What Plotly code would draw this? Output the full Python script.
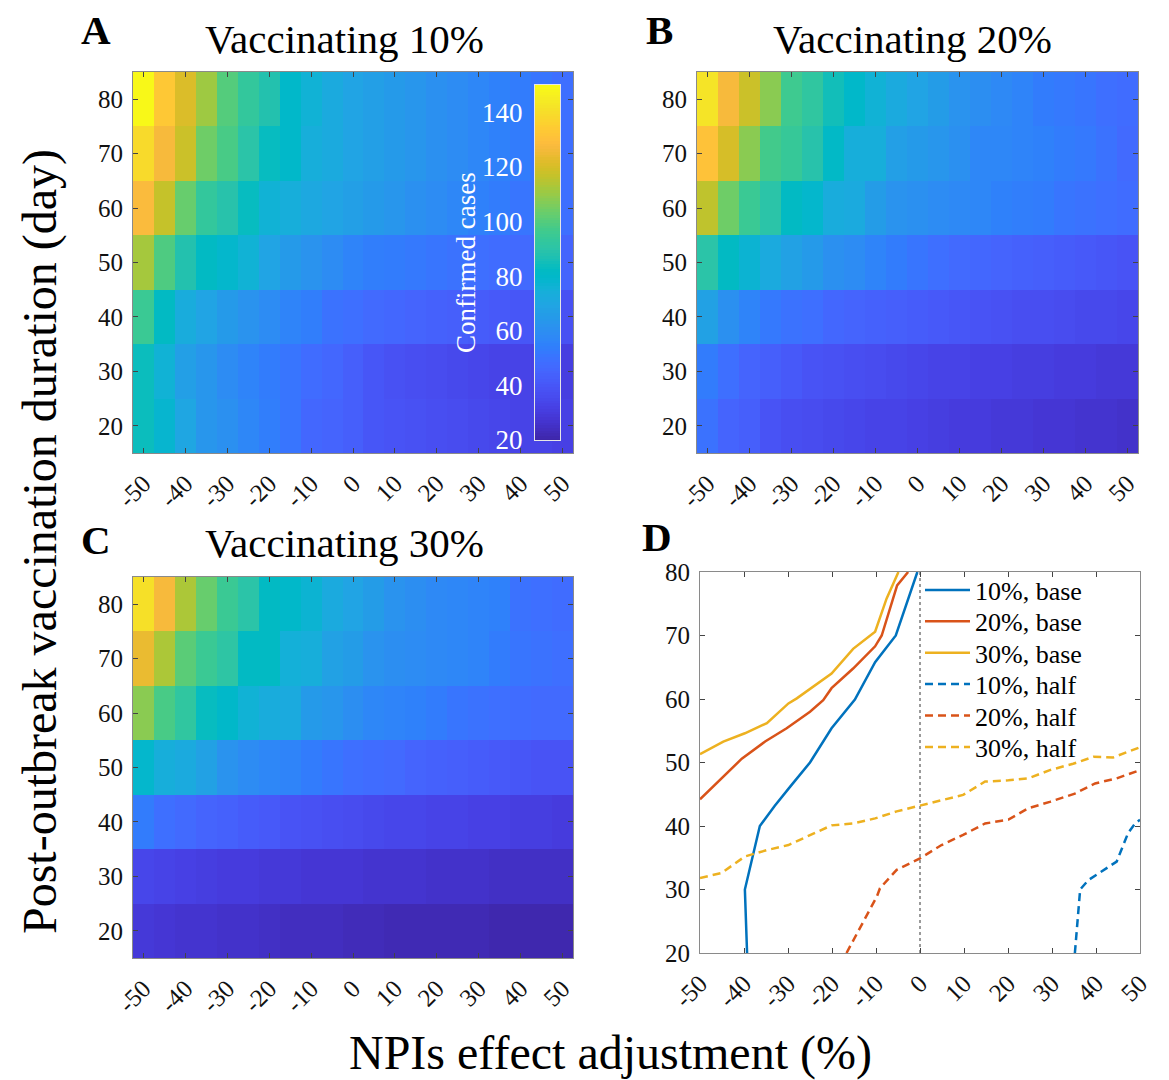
import plotly.graph_objects as go

# ---------------- data ----------------
npi_adjust = [-50, -45, -40, -35, -30, -25, -20, -15, -10, -5, 0, 5, 10, 15, 20, 25, 30, 35, 40, 45, 50]
duration_days = [20, 30, 40, 50, 60, 70, 80]
x_tick_vals = [-50, -40, -30, -20, -10, 0, 10, 20, 30, 40, 50]
x_tick_text = ["-50", "-40", "-30", "-20", "-10", "0", "10", "20", "30", "40", "50"]
y_tick_vals = [20, 30, 40, 50, 60, 70, 80]
cbar_ticks = [20, 40, 60, 80, 100, 120, 140]
cbar_levels = list(range(20, 151))  # colour-bar gradient levels (20..150)

# Vaccinating 10% (rows: duration 20 -> 80)
cases_10 = [
    [84, 78, 70, 63, 61, 57, 54, 51, 46, 45, 43, 40, 39, 38, 37, 36, 35, 34, 33, 33, 32],
    [84, 76, 67, 63, 59, 56, 53, 51, 48, 46, 43, 40, 38, 37, 36, 35, 34, 33, 33, 32, 31],
    [95, 82, 73, 69, 65, 62, 59, 56, 54, 50, 49, 47, 46, 45, 44, 43, 42, 41, 40, 39, 38],
    [112, 99, 88, 82, 79, 76, 69, 65, 62, 59, 56, 54, 53, 52, 51, 50, 49, 48, 47, 46, 45],
    [128, 117, 103, 93, 89, 83, 76, 74, 71, 69, 67, 65, 63, 61, 59, 57, 55, 53, 51, 50, 49],
    [139, 127, 118, 104, 98, 90, 83, 80, 74, 72, 69, 67, 65, 63, 61, 59, 57, 55, 53, 51, 49],
    [149, 133, 121, 111, 100, 93, 88, 80, 76, 72, 69, 67, 65, 63, 61, 59, 57, 55, 53, 51, 49],
]
# Vaccinating 20%
cases_20 = [
    [50, 45, 43, 39, 37, 36, 35, 34, 33, 33, 32, 31, 30, 30, 29, 29, 28, 28, 27, 27, 26],
    [53, 49, 45, 43, 41, 39, 38, 37, 36, 35, 34, 33, 33, 32, 32, 31, 31, 30, 30, 29, 29],
    [68, 61, 56, 52, 50, 49, 46, 45, 44, 43, 42, 41, 40, 39, 38, 37, 37, 36, 35, 35, 34],
    [90, 82, 77, 72, 68, 65, 61, 59, 56, 53, 51, 49, 47, 46, 45, 44, 43, 42, 41, 40, 39],
    [116, 104, 95, 90, 82, 79, 73, 72, 66, 62, 61, 59, 58, 57, 55, 54, 53, 51, 50, 49, 48],
    [131, 120, 108, 97, 94, 89, 81, 74, 74, 67, 65, 63, 61, 57, 57, 56, 55, 53, 52, 50, 47],
    [142, 127, 118, 108, 96, 92, 85, 80, 76, 72, 69, 66, 62, 60, 58, 56, 53, 52, 51, 49, 48],
]
# Vaccinating 30%
cases_30 = [
    [29, 28, 27, 27, 26, 26, 25, 24, 24, 24, 23, 23, 22, 22, 22, 22, 22, 21, 21, 21, 21],
    [34, 33, 32, 31, 30, 30, 29, 29, 28, 28, 28, 27, 27, 27, 26, 26, 26, 25, 25, 25, 25],
    [53, 49, 47, 45, 44, 42, 41, 39, 38, 37, 36, 35, 34, 34, 33, 33, 32, 32, 31, 31, 30],
    [79, 74, 72, 68, 62, 59, 57, 56, 53, 51, 49, 48, 47, 45, 44, 43, 42, 41, 40, 39, 39],
    [108, 98, 92, 83, 80, 76, 73, 72, 65, 63, 60, 57, 56, 55, 53, 51, 50, 49, 48, 47, 47],
    [124, 113, 101, 95, 91, 82, 82, 75, 74, 68, 66, 62, 60, 59, 58, 57, 56, 53, 51, 50, 49],
    [141, 127, 113, 103, 95, 90, 82, 80, 77, 72, 69, 66, 62, 60, 58, 57, 56, 55, 50, 49, 48],
]

# Panel D threshold curves
base10_x = [-39.3, -39.8, -36.4, -33.0, -29.5, -25.0, -20.1, -14.8, -10.2, -5.5, -0.6]
base10_y = [20, 30, 40, 43.2, 46.2, 50, 55.4, 59.9, 65.8, 70, 80]
base20_x = [-50, -45.1, -40.5, -35.2, -30.3, -25, -22, -20.1, -15.2, -10.2, -8.7, -5.2, -2.7]
base20_y = [44.2, 47.5, 50.6, 53.3, 55.4, 58, 59.8, 61.7, 64.8, 68.3, 70, 77.9, 80]
base30_x = [-50, -44.7, -39.8, -34.8, -29.9, -28, -20.1, -15.2, -10.2, -7.6, -4.9]
base30_y = [51.3, 53.3, 54.6, 56.2, 59.3, 60.1, 64, 67.9, 70.6, 75.8, 80]
half10_x = [35.2, 36.4, 38.3, 44.7, 47.3, 48.9, 50]
half10_y = [20, 30, 31.5, 34.4, 38.9, 40.4, 41]
half20_x = [-16.7, -9.8, -9.1, -5.3, 0, 4.9, 9.8, 14.8, 20.1, 24.6, 29.5, 35.2, 39.8, 44.7, 50]
half20_y = [20, 28.9, 30.2, 33.1, 34.9, 37, 38.6, 40.4, 41, 42.8, 43.8, 45.1, 46.7, 47.5, 48.8]
half30_x = [-50, -45.1, -39.8, -34.8, -29.9, -25, -20.1, -15.2, -10.2, -5.3, 0, 4.9, 9.8, 14.8,
            20.1, 24.6, 29.5, 34.8, 39.4, 43.9, 50]
half30_y = [31.8, 32.6, 35.2, 36.2, 37, 38.6, 40.1, 40.4, 41.2, 42.3, 43.2, 44, 44.9, 47,
            47.2, 47.5, 48.8, 49.8, 50.9, 50.8, 52.4]

# ---------------- style ----------------
PARULA = [
    (0.2422, 0.1504, 0.6603), (0.2504, 0.1650, 0.7076), (0.2578, 0.1818, 0.7511), (0.2647, 0.1978, 0.7952),
    (0.2706, 0.2147, 0.8364), (0.2751, 0.2342, 0.8710), (0.2783, 0.2559, 0.8991), (0.2803, 0.2782, 0.9221),
    (0.2813, 0.3006, 0.9414), (0.2810, 0.3228, 0.9579), (0.2795, 0.3447, 0.9717), (0.2760, 0.3667, 0.9829),
    (0.2699, 0.3892, 0.9906), (0.2602, 0.4123, 0.9952), (0.2440, 0.4358, 0.9988), (0.2206, 0.4603, 0.9973),
    (0.1963, 0.4847, 0.9892), (0.1834, 0.5074, 0.9798), (0.1786, 0.5289, 0.9682), (0.1764, 0.5499, 0.9520),
    (0.1687, 0.5703, 0.9359), (0.1540, 0.5902, 0.9218), (0.1460, 0.6091, 0.9079), (0.1380, 0.6276, 0.8973),
    (0.1248, 0.6459, 0.8883), (0.1113, 0.6630, 0.8763), (0.0952, 0.6798, 0.8598), (0.0689, 0.6948, 0.8394),
    (0.0297, 0.7082, 0.8163), (0.0036, 0.7203, 0.7917), (0.0067, 0.7312, 0.7660), (0.0433, 0.7411, 0.7394),
    (0.0964, 0.7500, 0.7120), (0.1408, 0.7584, 0.6842), (0.1717, 0.7670, 0.6554), (0.1938, 0.7758, 0.6251),
    (0.2161, 0.7843, 0.5923), (0.2470, 0.7918, 0.5567), (0.2906, 0.7973, 0.5188), (0.3406, 0.8008, 0.4789),
    (0.3909, 0.8029, 0.4354), (0.4456, 0.8024, 0.3909), (0.5044, 0.7993, 0.3480), (0.5616, 0.7942, 0.3045),
    (0.6174, 0.7876, 0.2612), (0.6720, 0.7793, 0.2227), (0.7242, 0.7698, 0.1910), (0.7738, 0.7598, 0.1646),
    (0.8203, 0.7498, 0.1535), (0.8634, 0.7406, 0.1596), (0.9035, 0.7330, 0.1774), (0.9393, 0.7288, 0.2100),
    (0.9728, 0.7298, 0.2394), (0.9956, 0.7434, 0.2371), (0.9970, 0.7659, 0.2199), (0.9952, 0.7893, 0.2028),
    (0.9892, 0.8136, 0.1885), (0.9786, 0.8386, 0.1766), (0.9676, 0.8639, 0.1643), (0.9610, 0.8890, 0.1537),
    (0.9597, 0.9135, 0.1423), (0.9628, 0.9373, 0.1265), (0.9691, 0.9606, 0.1064), (0.9769, 0.9839, 0.0805),
]
n = len(PARULA)
parula_scale = [[i / (n - 1), "rgb(%d,%d,%d)" % tuple(round(c * 255) for c in rgb)] for i, rgb in enumerate(PARULA)]

W, H = 1169, 1080
FONT = "Liberation Serif, Times New Roman, serif"
TICK_FONT = dict(family=FONT, size=25, color="#111111")
AXIS_LINE = "#8a8a8a"


def dom_x(a, b):
    return [a / W, b / W]


def dom_y(top, bottom):
    return [1 - bottom / H, 1 - top / H]


fig = go.Figure()

panels = [(cases_10, "x", "y"), (cases_20, "x2", "y2"), (cases_30, "x3", "y3")]
for z, xa, ya in panels:
    fig.add_trace(go.Heatmap(
        x=npi_adjust, y=duration_days, z=z, coloraxis="coloraxis",
        xaxis=xa, yaxis=ya, showlegend=False,
    ))

line_specs = [
    ("10%, base", base10_x, base10_y, "#0072BD", "solid"),
    ("20%, base", base20_x, base20_y, "#D95319", "solid"),
    ("30%, base", base30_x, base30_y, "#EDB120", "solid"),
    ("10%, half", half10_x, half10_y, "#0072BD", "8px,5px"),
    ("20%, half", half20_x, half20_y, "#D95319", "8px,5px"),
    ("30%, half", half30_x, half30_y, "#EDB120", "8px,5px"),
]
legend_names = ["legend", "legend2", "legend3", "legend4", "legend5", "legend6"]
for (name, xs, ys, col, dash), lg in zip(line_specs, legend_names):
    fig.add_trace(go.Scatter(
        x=xs, y=ys, mode="lines", name=name, xaxis="x4", yaxis="y4",
        line=dict(color=col, width=2.5, dash=dash), legend=lg,
    ))

# colour bar drawn as a thin heatmap so labels can sit on its left side
fig.add_trace(go.Heatmap(
    x=[0], y=cbar_levels, z=[[v] for v in cbar_levels], coloraxis="coloraxis",
    xaxis="x5", yaxis="y5", hoverinfo="skip", showlegend=False,
))

common_x = dict(
    tickmode="array", tickvals=x_tick_vals, ticktext=x_tick_text, tickangle=-45, tickfont=TICK_FONT,
    ticks="inside", ticklen=5, tickcolor="#444444", showline=True, linecolor=AXIS_LINE,
    linewidth=1, mirror="ticks", showgrid=False, zeroline=False, automargin=False,
    ticklabelstandoff=5,
)
common_y = dict(
    tickmode="array", tickvals=y_tick_vals, tickfont=TICK_FONT,
    ticks="inside", ticklen=5, tickcolor="#444444", showline=True, linecolor=AXIS_LINE,
    linewidth=1, mirror="ticks", showgrid=False, zeroline=False, automargin=False,
    ticklabelstandoff=4,
)

legend_layouts = {}
for i, lg in enumerate(legend_names):
    legend_layouts[lg] = dict(
        x=920 / W, y=1 - (590 + 31.4 * i) / H, xanchor="left", yanchor="middle",
        bgcolor="rgba(0,0,0,0)", borderwidth=0,
        font=dict(family=FONT, size=26, color="black"),
        itemwidth=45, tracegroupgap=0,
    )

fig.update_layout(
    width=W, height=H,
    margin=dict(l=0, r=0, t=0, b=0, autoexpand=False),
    paper_bgcolor="white", plot_bgcolor="white",
    font=dict(family=FONT, color="black"),
    xaxis=dict(common_x, domain=dom_x(133, 573), range=[-52.5, 52.5], anchor="y"),
    yaxis=dict(common_y, domain=dom_y(72, 453), range=[15, 85], anchor="x"),
    xaxis2=dict(common_x, domain=dom_x(697, 1138), range=[-52.5, 52.5], anchor="y2"),
    yaxis2=dict(common_y, domain=dom_y(72, 453), range=[15, 85], anchor="x2"),
    xaxis3=dict(common_x, domain=dom_x(133, 573), range=[-52.5, 52.5], anchor="y3"),
    yaxis3=dict(common_y, domain=dom_y(577, 958), range=[15, 85], anchor="x3"),
    xaxis4=dict(common_x, domain=dom_x(700, 1140), range=[-50, 50], anchor="y4"),
    yaxis4=dict(common_y, domain=dom_y(572, 953), range=[20, 80], anchor="x4"),
    xaxis5=dict(domain=dom_x(535, 560), range=[-0.5, 0.5], anchor="y5", showticklabels=False,
                ticks="", showline=True, linecolor="#e6e6e6", linewidth=1, mirror=True,
                showgrid=False, zeroline=False, automargin=False, fixedrange=True),
    yaxis5=dict(domain=dom_y(85, 440), range=[20, 150], anchor="x5", side="left",
                tickmode="array", tickvals=cbar_ticks, ticks="",
                tickfont=dict(family=FONT, size=27, color="white"), ticklabelstandoff=6,
                showline=True, linecolor="#e6e6e6", linewidth=1, mirror=True,
                showgrid=False, zeroline=False, automargin=False, fixedrange=True),
    coloraxis=dict(colorscale=parula_scale, cmin=20, cmax=150, showscale=False),
    showlegend=True,
    **legend_layouts,
)

fig.add_shape(type="line", xref="x4", yref="y4", x0=0, x1=0, y0=20, y1=80,
              line=dict(color="#9a9a9a", width=2, dash="dot"), layer="below")

annotations = [
    dict(text="Vaccinating 10%", x=344 / W, y=1 - 39 / H, size=41),
    dict(text="Vaccinating 20%", x=912 / W, y=1 - 39 / H, size=41),
    dict(text="Vaccinating 30%", x=344 / W, y=1 - 543 / H, size=41),
    dict(text="<b>A</b>", x=96 / W, y=1 - 30 / H, size=41),
    dict(text="<b>B</b>", x=660 / W, y=1 - 30 / H, size=41),
    dict(text="<b>C</b>", x=96 / W, y=1 - 540 / H, size=41),
    dict(text="<b>D</b>", x=657 / W, y=1 - 537 / H, size=41),
    dict(text="NPIs effect adjustment (%)", x=610 / W, y=1 - 1053 / H, size=48),
]
for a in annotations:
    fig.add_annotation(
        text=a["text"], x=a["x"], y=a["y"], xref="paper", yref="paper",
        xanchor="center", yanchor="middle", showarrow=False,
        font=dict(family=FONT, size=a["size"], color="black"),
    )

fig.add_annotation(
    text="Post-outbreak vaccination duration (day)", x=40 / W, y=1 - 542 / H,
    xref="paper", yref="paper", xanchor="center", yanchor="middle", showarrow=False,
    textangle=-90, font=dict(family=FONT, size=48, color="black"),
)
fig.add_annotation(
    text="Confirmed cases", x=466 / W, y=1 - 263 / H,
    xref="paper", yref="paper", xanchor="center", yanchor="middle", showarrow=False,
    textangle=-90, font=dict(family=FONT, size=27, color="white"),
)

fig.write_html("out.html")
